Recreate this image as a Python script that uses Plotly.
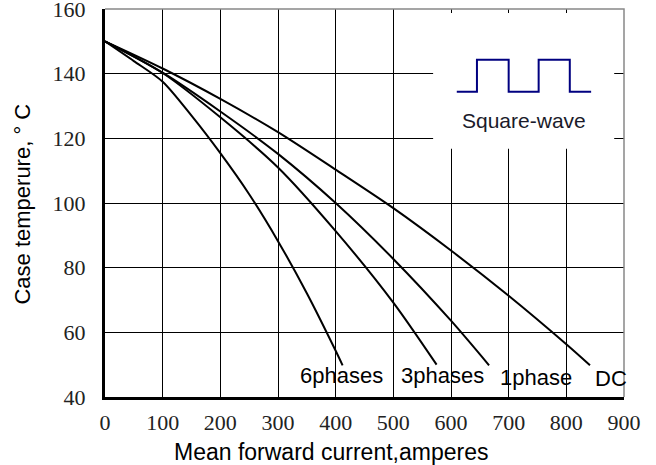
import plotly.graph_objects as go

# Curve data (current in A, case temperature in C)
x_dc = [0, 100, 200, 300, 400, 500, 600, 700, 800, 841]
y_dc = [150, 141.6, 132.2, 121.9, 110.3, 98.4, 85.3, 71.3, 56.3, 49.8]

x_1ph = [0, 100, 200, 300, 400, 500, 600, 666]
y_1ph = [150, 140.3, 128.3, 115.2, 100.0, 82.7, 63.6, 49.8]

x_3ph = [0, 100, 200, 300, 400, 500, 575]
y_3ph = [150, 140.2, 126.5, 111.0, 91.3, 69.2, 50.0]

x_6ph = [0, 50, 100, 150, 200, 250, 300, 350, 400, 412]
y_6ph = [150, 143.9, 137.5, 127.0, 115.4, 102.7, 88.2, 72.1, 54.3, 49.8]

curve_names = ["DC", "1phase", "3phases", "6phases"]
label_x = [877, 748, 586, 410]
label_y = [45.8, 46.1, 46.8, 46.8]

x_ticks = [0, 100, 200, 300, 400, 500, 600, 700, 800, 900]
y_ticks = [40, 60, 80, 100, 120, 140, 160]

# square-wave icon in the inset box (data units)
wave_x = [610, 645, 645, 700, 700, 752, 752, 806, 806, 843]
wave_y = [134.4, 134.4, 144.3, 144.3, 134.4, 134.4, 144.3, 144.3, 134.4, 134.4]

fig = go.Figure()
for xs, ys, name in zip([x_dc, x_1ph, x_3ph, x_6ph], [y_dc, y_1ph, y_3ph, y_6ph], curve_names):
    fig.add_trace(go.Scatter(x=xs, y=ys, mode="lines", name=name,
                             line=dict(color="black", width=2, shape="spline", smoothing=0.8),
                             showlegend=False, hoverinfo="skip"))

fig.add_trace(go.Scatter(x=wave_x, y=wave_y, mode="lines",
                         line=dict(color="#000080", width=2),
                         showlegend=False, hoverinfo="skip"))

for name, lx, ly in zip(curve_names, label_x, label_y):
    fig.add_annotation(x=lx, y=ly, xref="x", yref="y", text=name, showarrow=False,
                       font=dict(family="Liberation Sans, Arial", size=22, color="black"),
                       xanchor="center", yanchor="middle")

fig.add_annotation(x=726, y=125.5, xref="x", yref="y", text="Square-wave", showarrow=False,
                   font=dict(family="Liberation Sans, Arial", size=21, color="#1a1a2a"),
                   xanchor="center", yanchor="middle")

# titles
fig.add_annotation(x=0.4345, y=0, xref="paper", yref="paper", yshift=-55,
                   text="Mean forward current,amperes", showarrow=False,
                   font=dict(family="Liberation Sans, Arial", size=23, color="black"),
                   xanchor="center", yanchor="middle")
fig.add_annotation(x=0, y=0.496, xref="paper", yref="paper", xshift=-82,
                   text="Case temperure, ° C", textangle=-90, showarrow=False,
                   font=dict(family="Liberation Sans, Arial", size=22, color="black"),
                   xanchor="center", yanchor="middle")

# inset white box covering the grid
fig.add_shape(type="rect", xref="x", yref="y", x0=569, x1=883, y0=116.8, y1=158.8,
              fillcolor="white", line=dict(width=0), layer="between")
# top / right gray border
fig.add_shape(type="path", xref="paper", yref="paper",
              path="M 0,1 L 1,1 L 1,0", line=dict(color="#888888", width=1.5), layer="above")

fig.update_xaxes(range=[0, 900], tickvals=x_ticks, showgrid=True, gridcolor="black", gridwidth=1.3,
                 showline=True, linecolor="black", linewidth=3, zeroline=False,
                 ticks="", ticklabelstandoff=4, automargin=False,
                 tickfont=dict(family="Liberation Serif, Times New Roman", size=22, color="#222222"))
fig.update_yaxes(range=[40, 160.001], tickvals=y_ticks, showgrid=True, gridcolor="black", gridwidth=1.3,
                 showline=True, linecolor="black", linewidth=3, zeroline=False,
                 ticks="", ticklabelstandoff=12, ticklabeloverflow="allow", automargin=False,
                 tickfont=dict(family="Liberation Serif, Times New Roman", size=22, color="#222222"))

fig.update_layout(width=656, height=465, margin=dict(l=105, r=32, t=9, b=68, autoexpand=False),
                  plot_bgcolor="white", paper_bgcolor="white")

fig.write_html("out.html")
